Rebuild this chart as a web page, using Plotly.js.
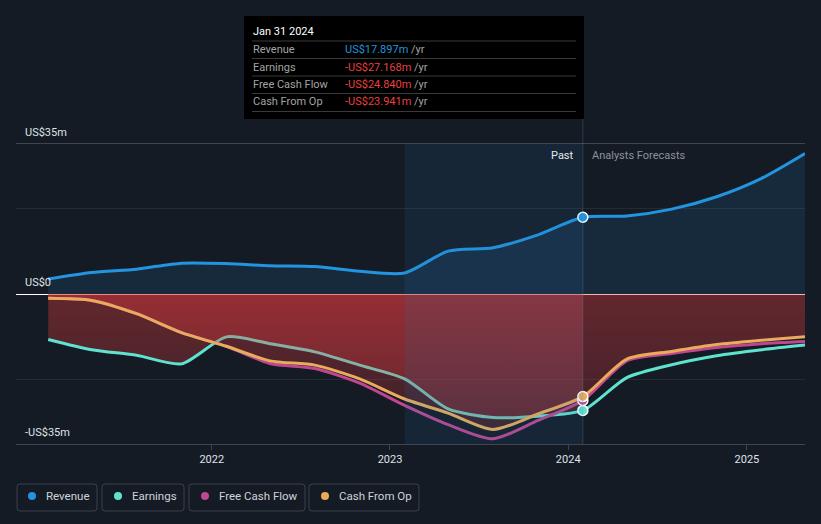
<!DOCTYPE html>
<html><head><meta charset="utf-8">
<script src="https://cdn.plot.ly/plotly-3.0.1.min.js"></script>
<style>html,body{margin:0;padding:0;background:#151b24;}#chart{width:821px;height:524px;}</style>
</head><body><div id="chart"></div>
<script>
const dates = ['2021-01-31','2021-04-30','2021-07-31','2021-10-31','2022-01-31','2022-04-30','2022-07-31','2022-10-31','2023-01-31','2023-04-30','2023-07-31','2023-10-31','2024-01-31','2024-04-30','2024-07-31','2024-10-31','2025-01-31','2025-04-30'];
const revenue      = [3.5, 5.0, 5.8, 7.2, 7.1, 6.6, 6.4, 5.3, 4.9, 10.0, 10.8, 13.8, 17.897, 18.2, 19.8, 22.7, 27.0, 32.8];
const earnings     = [-10.6, -13.0, -14.3, -16.3, -10.0, -11.6, -13.5, -16.6, -19.8, -26.8, -28.8, -28.5, -27.168, -19.5, -16.5, -14.4, -13.0, -11.9];
const freeCashFlow = [-1.0, -1.5, -4.6, -9.0, -12.2, -16.2, -17.4, -20.8, -26.0, -30.5, -33.8, -29.5, -24.840, -15.6, -13.9, -12.5, -11.6, -11.1];
const cashFromOp   = [-1.0, -1.5, -4.6, -9.0, -12.2, -15.6, -16.6, -19.8, -24.5, -27.8, -31.6, -28.0, -23.941, -15.2, -13.4, -11.8, -10.8, -10.0];
const seriesNames  = ['Revenue', 'Earnings', 'Free Cash Flow', 'Cash From Op'];
const seriesColors = ['#2394df', '#5fe3cf', '#c0478f', '#e9ac5c'];
const xTickVals = ['2022-01-01', '2023-01-01', '2024-01-01', '2025-01-01'];
const xTickText = ['2022', '2023', '2024', '2025'];
const yTickVals = [-35, -20, 0, 20, 35];
const yTickText = ['-US$35m', '', 'US$0', '', 'US$35m'];
const pastLabel = 'Past';
const forecastLabel = 'Analysts Forecasts';
const tooltipDate = 'Jan 31 2024';
const nowIdx = 12;          // Jan 31 2024 (last reported)
const highlightStartIdx = 8; // Jan 31 2023

const W = 821, H = 524;
const X = p => p / W, Y = p => 1 - p / H;
const FONT = 'Roboto, sans-serif';
const allSeries = [revenue, earnings, freeCashFlow, cashFromOp];

const redGrad = {type: 'vertical', start: -35, stop: 0,
  colorscale: [[0, 'rgba(228,58,62,0.18)'], [1, 'rgba(228,58,62,0.38)']]};
const spline = {shape: 'spline', smoothing: 0.7};

const past = dates.slice(0, nowIdx + 1);
const traces = [
  {x: dates, y: revenue, mode: 'lines', fill: 'tozeroy', fillcolor: 'rgba(35,148,223,0.13)',
   line: Object.assign({color: seriesColors[0], width: 3}, spline)},
  {x: past, y: earnings.slice(0, nowIdx + 1), mode: 'lines', fill: 'tozeroy',
   fillcolor: 'rgba(228,58,62,0.28)', fillgradient: redGrad,
   line: Object.assign({color: 'rgba(0,0,0,0)', width: 0}, spline)},
  {x: dates, y: earnings, mode: 'lines', line: Object.assign({color: seriesColors[1], width: 3}, spline)},
  {x: dates, y: cashFromOp, mode: 'lines', fill: 'tozeroy',
   fillcolor: 'rgba(228,58,62,0.28)', fillgradient: redGrad,
   line: Object.assign({color: 'rgba(0,0,0,0)', width: 0}, spline)},
  {x: dates, y: freeCashFlow, mode: 'lines', line: Object.assign({color: seriesColors[2], width: 3}, spline)},
  {x: dates, y: cashFromOp, mode: 'lines', line: Object.assign({color: seriesColors[3], width: 3}, spline)}
];
// current-value dots
[0, 1, 2, 3].forEach(i => {
  traces.push({x: [dates[nowIdx]], y: [allSeries[i][nowIdx]], mode: 'markers',
    marker: {size: 10, color: seriesColors[i], line: {color: '#ffffff', width: 1.5}}});
});

const shapes = [
  // past-year highlight
  {type: 'rect', xref: 'x', yref: 'y', x0: dates[highlightStartIdx], x1: dates[nowIdx], y0: -35, y1: 35,
   fillcolor: 'rgba(30,120,190,0.12)', line: {width: 0}, layer: 'above'},
  // hover line
  {type: 'line', xref: 'x', yref: 'paper', x0: dates[nowIdx], x1: dates[nowIdx], y0: Y(444), y1: Y(119),
   line: {color: 'rgba(120,150,190,0.25)', width: 1}, layer: 'above'},
  // tooltip box
  {type: 'rect', xref: 'paper', yref: 'paper', x0: X(244), x1: X(584), y0: Y(119), y1: Y(16),
   fillcolor: '#000000', line: {width: 0}, layer: 'above'}
];
[41, 58.5, 76, 93.5, 111.5].forEach(py => shapes.push({type: 'line', xref: 'paper', yref: 'paper',
  x0: X(252), x1: X(576), y0: Y(py), y1: Y(py), line: {color: '#3a3a3a', width: 1}, layer: 'above'}));

const annotations = [
  {xref: 'paper', yref: 'paper', x: X(576), y: Y(156), xanchor: 'right', yanchor: 'middle', showarrow: false,
   text: pastLabel, font: {family: FONT, size: 11, color: '#e6e8eb'}},
  {xref: 'paper', yref: 'paper', x: X(590), y: Y(156), xanchor: 'left', yanchor: 'middle', showarrow: false,
   text: forecastLabel, font: {family: FONT, size: 11, color: '#8c929b'}},
  {xref: 'paper', yref: 'paper', x: X(251), y: Y(31), xanchor: 'left', yanchor: 'middle', showarrow: false,
   text: tooltipDate, font: {family: FONT, size: 11, color: '#ffffff'}}
];
const fmt = v => (v < 0 ? '-' : '') + 'US$' + Math.abs(v).toFixed(3) + 'm';
const rowY = [49.5, 67, 84.5, 101.5];
seriesNames.forEach((n, i) => {
  const v = allSeries[i][nowIdx];
  annotations.push({xref: 'paper', yref: 'paper', x: X(251), y: Y(rowY[i]), xanchor: 'left', yanchor: 'middle',
    showarrow: false, text: n, font: {family: FONT, size: 11, color: '#a3a3a3'}});
  annotations.push({xref: 'paper', yref: 'paper', x: X(343), y: Y(rowY[i]), xanchor: 'left', yanchor: 'middle',
    showarrow: false, text: '<span style="color:' + (v < 0 ? '#e8403f' : '#2394df') + '">' + fmt(v) + '</span> /yr',
    font: {family: FONT, size: 11, color: '#a3a3a3'}});
});

// legend boxes
const boxes = [[17, 97], [102, 184], [189, 305], [309, 419]];
const dotX = [32, 118, 205, 325];
const textX = [43.5, 129.5, 216.5, 336.5];
const r = 3;
boxes.forEach((b, i) => {
  const x0 = b[0], x1 = b[1], y0 = 484, y1 = 511;
  const P = (px, py) => X(px) + ',' + Y(py);
  const path = 'M' + P(x0 + r, y0) + ' L' + P(x1 - r, y0) + ' Q' + P(x1, y0) + ' ' + P(x1, y0 + r) +
    ' L' + P(x1, y1 - r) + ' Q' + P(x1, y1) + ' ' + P(x1 - r, y1) + ' L' + P(x0 + r, y1) +
    ' Q' + P(x0, y1) + ' ' + P(x0, y1 - r) + ' L' + P(x0, y0 + r) + ' Q' + P(x0, y0) + ' ' + P(x0 + r, y0) + ' Z';
  shapes.push({type: 'path', xref: 'paper', yref: 'paper', path: path, line: {color: '#3b414b', width: 1}});
  shapes.push({type: 'circle', xref: 'paper', yref: 'paper', x0: X(dotX[i] - 4), x1: X(dotX[i] + 4),
    y0: Y(496 + 4), y1: Y(496 - 4), fillcolor: seriesColors[i], line: {width: 0}});
  annotations.push({xref: 'paper', yref: 'paper', x: X(textX[i]), y: Y(496), xanchor: 'left', yanchor: 'middle',
    showarrow: false, text: seriesNames[i], font: {family: FONT, size: 11.5, color: '#cfd3d9'}});
});

const layout = {
  width: W, height: H, margin: {l: 0, r: 0, t: 0, b: 0},
  paper_bgcolor: '#151b24', plot_bgcolor: 'rgba(0,0,0,0)',
  showlegend: false, hovermode: false,
  font: {family: FONT, color: '#dfe3e8', size: 11},
  xaxis: {domain: [X(16), X(805)], type: 'date', range: ['2020-11-26', '2025-04-30'],
    tickvals: xTickVals, ticktext: xTickText, ticks: 'outside', ticklen: 5, tickcolor: '#3f4550',
    showgrid: false, showline: true, mirror: true, linecolor: '#40454f', linewidth: 1,
    zeroline: false, tickfont: {family: FONT, size: 11, color: '#dfe3e8'}},
  yaxis: {domain: [Y(444), Y(144)], range: [-35, 35], tickvals: yTickVals, ticktext: yTickText,
    ticklabelposition: 'inside', ticklabeloverflow: 'allow', ticklabelshift: -12, ticklabelstandoff: 6,
    showgrid: true, gridcolor: 'rgba(255,255,255,0.07)', zeroline: true, zerolinecolor: '#ffffff',
    zerolinewidth: 1, showline: false, tickfont: {family: FONT, size: 11, color: '#dfe3e8'}},
  shapes: shapes, annotations: annotations
};
Plotly.newPlot('chart', traces, layout, {displayModeBar: false, staticPlot: true});
</script></body></html>
